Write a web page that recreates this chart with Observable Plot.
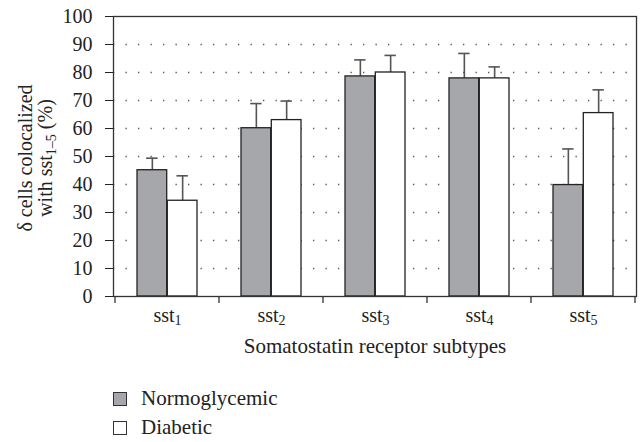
<!DOCTYPE html>
<html>
<head>
<meta charset="utf-8">
<script src="https://cdn.jsdelivr.net/npm/d3@7"></script>
<script src="https://cdn.jsdelivr.net/npm/@observablehq/plot@0.6"></script>
<style>
  html, body { margin: 0; padding: 0; background: #fff; overflow: hidden; }
  body { width: 640px; height: 442px; font-family: "Liberation Serif", serif; color: #222; }
  #legend { padding-top: 18px; margin-left: 113px; font-size: 21px; }
  .item { display: flex; align-items: center; height: 29px; }
  .sw { width: 12px; height: 12px; border: 1.3px solid #333; margin-right: 14px; box-sizing: content-box; }
</style>
</head>
<body>
<div id="chart"></div>
<div id="legend"></div>
<script>
const categories = ["sst1", "sst2", "sst3", "sst4", "sst5"];
const seriesNames = ["Normoglycemic", "Diabetic"];
const normoglycemic = [45.1, 60.1, 78.6, 77.9, 39.8];
const normoglycemicUpper = [49.4, 68.9, 84.5, 86.8, 52.7];
const diabetic = [34.2, 63.0, 80.0, 77.9, 65.5];
const diabeticUpper = [43.1, 69.8, 86.1, 82.0, 73.8];
const yTicks = [0, 10, 20, 30, 40, 50, 60, 70, 80, 90, 100];
const gridValues = [10, 20, 30, 40, 50, 60, 70, 80, 90];
const colors = ["#a6a7aa", "#ffffff"];

const normoData = categories.map((c, i) => ({cat: c, value: normoglycemic[i], upper: normoglycemicUpper[i]}));
const diabData = categories.map((c, i) => ({cat: c, value: diabetic[i], upper: diabeticUpper[i]}));

const outer = 22, half = 52.3, bw = 30.3, cap = 6;
const errStroke = "#555";

const plot = Plot.plot({
  width: 640,
  height: 366,
  marginLeft: 113,
  marginRight: 4,
  marginTop: 16,
  marginBottom: 70,
  style: {fontFamily: "Liberation Serif, serif", fontSize: "20px", background: "white", color: "#222", overflow: "visible"},
  x: {domain: categories, padding: 0, tickSize: 0, tickPadding: 11, label: null},
  y: {domain: [0, 100], ticks: yTicks, tickSize: 8, tickPadding: 13, label: null, tickFormat: d => String(d)},
  marks: [
    Plot.ruleY(gridValues, {stroke: "#555", strokeWidth: 1.3, strokeDasharray: "1.3,11.2"}),
    Plot.ruleX(normoData, {x: "cat", y1: "value", y2: "upper", dx: -(half - outer - bw / 2), stroke: errStroke, strokeWidth: 1.6}),
    Plot.tickY(normoData, {x: "cat", y: "upper", insetLeft: outer + bw / 2 - cap, insetRight: 104.6 - (outer + bw / 2 + cap), stroke: errStroke, strokeWidth: 1.6}),
    Plot.ruleX(diabData, {x: "cat", y1: "value", y2: "upper", dx: (half - outer - bw / 2), stroke: errStroke, strokeWidth: 1.6}),
    Plot.tickY(diabData, {x: "cat", y: "upper", insetRight: outer + bw / 2 - cap, insetLeft: 104.6 - (outer + bw / 2 + cap), stroke: errStroke, strokeWidth: 1.6}),
    Plot.barY(normoData, {x: "cat", y: "value", fill: colors[0], stroke: "#222", strokeWidth: 1.3, insetLeft: outer, insetRight: half}),
    Plot.barY(diabData, {x: "cat", y: "value", fill: colors[1], stroke: "#222", strokeWidth: 1.3, insetLeft: half, insetRight: outer}),
    Plot.frame({stroke: "#333", strokeWidth: 1.3}),
    Plot.text(["Somatostatin receptor subtypes"], {frameAnchor: "bottom", dy: 56, fontSize: 21, fill: "#222"})
  ]
});

document.getElementById("chart").appendChild(plot);
const svg = d3.select(plot);
const xs = plot.scale("x");
const ys = plot.scale("y");
const y0 = ys.apply(0);

// category boundary ticks
const bounds = categories.map(c => xs.apply(c)).concat([xs.apply(categories[categories.length - 1]) + xs.bandwidth]);
svg.append("g").selectAll("line").data(bounds).join("line")
  .attr("x1", d => d).attr("x2", d => d)
  .attr("y1", y0).attr("y2", y0 + 7)
  .attr("stroke", "#333").attr("stroke-width", 1.3);

// subscripts on tick labels
svg.selectAll("text").each(function() {
  const t = this.textContent;
  const m = /^sst(\d)$/.exec(t);
  if (m && this.childElementCount === 0) {
    const el = d3.select(this);
    el.text("");
    el.append("tspan").text("sst");
    el.append("tspan").attr("dy", "0.25em").attr("font-size", "14px").text(m[1]);
  }
});

// y-axis title (two lines, rotated)
const line1 = svg.append("text")
  .attr("transform", "translate(32,158) rotate(-90)")
  .attr("text-anchor", "middle")
  .attr("font-family", "Liberation Serif, serif")
  .attr("font-size", 20)
  .attr("fill", "#222")
  .text("δ cells colocalized");
const line2 = svg.append("text")
  .attr("transform", "translate(52,158) rotate(-90)")
  .attr("text-anchor", "middle")
  .attr("font-family", "Liberation Serif, serif")
  .attr("font-size", 20)
  .attr("fill", "#222");
line2.append("tspan").text("with sst");
line2.append("tspan").attr("dy", "0.28em").attr("font-size", "14px").text("1–5");
line2.append("tspan").attr("dy", "-0.2em").text(" (%)");

// legend
const legend = d3.select("#legend");
seriesNames.forEach((name, i) => {
  const it = legend.append("div").attr("class", "item");
  it.append("div").attr("class", "sw").style("background", colors[i]);
  it.append("span").text(name);
});
</script>
</body>
</html>
